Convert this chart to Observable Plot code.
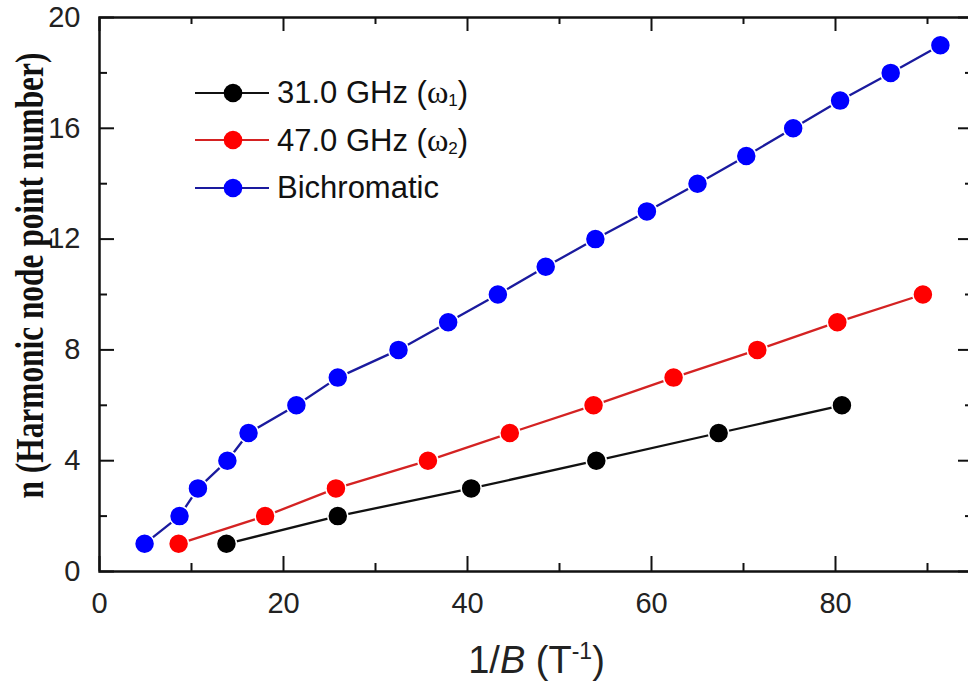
<!DOCTYPE html>
<html>
<head>
<meta charset="utf-8">
<script src="https://cdn.jsdelivr.net/npm/d3@7"></script>
<script src="https://cdn.jsdelivr.net/npm/@observablehq/plot@0.6"></script>
<style>
  html, body { margin: 0; padding: 0; background: #fff; overflow: hidden; }
  #wrap { position: relative; width: 968px; height: 683px; overflow: hidden; }
  #wrap > svg { max-width: none !important; }
  #legend { position: absolute; left: 195px; top: 69px; font-family: "Liberation Sans", Arial, sans-serif; font-size: 31px; color: #111; }
  .row { display: flex; align-items: center; height: 47.5px; white-space: nowrap; }
  .row svg { margin-right: 8px; }
  .om { font-family: "Liberation Serif", "Times New Roman", serif; font-size: 1.05em; }
  .row sub { font-size: 0.55em; vertical-align: -0.15em; }
</style>
</head>
<body>
<div id="wrap"></div>
<script>
// Harmonic node points: n versus 1/B for each excitation
const n31 = [1, 2, 3, 4, 5, 6];
const x31 = [13.8, 25.9, 40.4, 54.0, 67.3, 80.7];

const n47 = [1, 2, 3, 4, 5, 6, 7, 8, 9, 10];
const x47 = [8.6, 18.0, 25.7, 35.7, 44.6, 53.7, 62.4, 71.5, 80.2, 89.5];

const nBi = [1, 2, 3, 4, 5, 6, 7, 8, 9, 10, 11, 12, 13, 14, 15, 16, 17, 18, 19];
const xBi = [4.9, 8.7, 10.7, 13.9, 16.2, 21.4, 25.9, 32.5, 37.9, 43.3, 48.5, 53.9, 59.5, 65.0, 70.3, 75.4, 80.5, 86.0, 91.4];

const seriesNames = ["31.0 GHz (ω1)", "47.0 GHz (ω2)", "Bichromatic"];
const lineColors = ["#111111", "#d42222", "#1a1a9e"];
const dotColors = ["#000000", "#ff0000", "#0000ff"];

const xMajor = [0, 20, 40, 60, 80];
const xMinor = [10, 30, 50, 70, 90];
const yMajor = [0, 4, 8, 12, 16, 20];
const yMinor = [2, 6, 10, 14, 18];

const xTitle = "1/B (T⁻¹)";
const yTitle = "n (Harmonic node point number)";

const rows = (xs, ns, s) => xs.map((x, i) => ({x, n: ns[i], s}));
const data = [
  ...rows(x31, n31, seriesNames[0]),
  ...rows(x47, n47, seriesNames[1]),
  ...rows(xBi, nBi, seriesNames[2])
];

const W = 975, H = 683;
const mL = 99, mR = 2, mT = 17, mB = 112;
const plotW = W - mL - mR, plotH = H - mT - mB;
const sans = "'Liberation Sans', Arial, sans-serif";
const yTitleLength = 446; // condensed run length of the vertical title

const chart = Plot.plot({
  width: W,
  height: H,
  marginLeft: mL,
  marginRight: mR,
  marginTop: mT,
  marginBottom: mB,
  style: {background: "#fff", overflow: "visible", maxWidth: "none"},
  x: {domain: [0, 95], axis: null},
  y: {domain: [0, 20], axis: null},
  color: {domain: seriesNames, range: lineColors},
  marks: [
    // inward ticks on all four sides
    Plot.tickX(xMajor, {x: d => d, insetTop: plotH - 15, stroke: "#111", strokeWidth: 2}),
    Plot.tickX(xMinor, {x: d => d, insetTop: plotH - 8, stroke: "#111", strokeWidth: 2}),
    Plot.tickX(xMajor, {x: d => d, insetBottom: plotH - 14, stroke: "#111", strokeWidth: 2}),
    Plot.tickX(xMinor, {x: d => d, insetBottom: plotH - 7, stroke: "#111", strokeWidth: 2}),
    Plot.tickY(yMajor, {y: d => d, insetRight: plotW - 15, stroke: "#111", strokeWidth: 2}),
    Plot.tickY(yMinor, {y: d => d, insetRight: plotW - 8, stroke: "#111", strokeWidth: 2}),
    Plot.tickY(yMajor, {y: d => d, insetLeft: plotW - 15, stroke: "#111", strokeWidth: 2}),
    Plot.tickY(yMinor, {y: d => d, insetLeft: plotW - 8, stroke: "#111", strokeWidth: 2}),
    Plot.frame({stroke: "#111", strokeWidth: 2.5}),
    // tick labels
    Plot.text(xMajor, {x: d => d, frameAnchor: "bottom", lineAnchor: "middle", dy: 32, text: d => String(d), fontSize: 29, fontFamily: sans, fill: "#222"}),
    Plot.text(yMajor, {y: d => d, frameAnchor: "left", lineAnchor: "middle", dx: -19, textAnchor: "end", text: d => String(d), fontSize: 29, fontFamily: sans, fill: "#222"}),
    // series
    Plot.line(data, {x: "x", y: "n", z: "s", stroke: "s", strokeWidth: 2.3}),
    Plot.dot(data, {x: "x", y: "n", r: 10, fill: d => dotColors[seriesNames.indexOf(d.s)], stroke: "#fff", strokeWidth: 1.5}),
    // axis titles
    Plot.text([xTitle], {frameAnchor: "bottom", lineAnchor: "bottom", dy: 101, text: d => d, fontSize: 38, fontFamily: sans, fill: "#222"}),
    Plot.text([yTitle], {frameAnchor: "left", dx: -57, dy: -19, rotate: -90, textAnchor: "middle", lineAnchor: "bottom", text: d => d, fontSize: 40, fontWeight: "bold", fontFamily: "'Liberation Serif', 'Times New Roman', serif", fill: "#111"})
  ]
});

const wrap = document.getElementById("wrap");
wrap.appendChild(chart);

// rich text for the axis titles
chart.querySelectorAll("text").forEach(t => {
  if (t.textContent === xTitle) {
    t.textContent = "";
    const ns = "http://www.w3.org/2000/svg";
    const add = (txt, attrs) => {
      const s = document.createElementNS(ns, "tspan");
      s.textContent = txt;
      for (const k in attrs) s.setAttribute(k, attrs[k]);
      t.appendChild(s);
    };
    add("1/");
    add("B", {"font-style": "italic"});
    add(" (T");
    add("-1", {"font-size": "23", dy: "-14"});
    add(")", {dy: "14"});
  } else if (t.textContent === yTitle) {
    // tall, condensed vertical title
    const natural = t.getComputedTextLength();
    const k = natural > 0 ? yTitleLength / natural : 0.78;
    const tr = t.getAttribute("transform") || "";
    t.setAttribute("transform", `${tr} scale(${k},1)`);
  }
});

// legend
const legend = document.createElement("div");
legend.id = "legend";
const labelsHtml = [
  '31.0 GHz (<span class="om">ω</span><sub>1</sub>)',
  '47.0 GHz (<span class="om">ω</span><sub>2</sub>)',
  'Bichromatic'
];
seriesNames.forEach((name, i) => {
  const row = document.createElement("div");
  row.className = "row";
  row.innerHTML = `<svg width="74" height="24"><line x1="0" x2="74" y1="12" y2="12" stroke="${lineColors[i]}" stroke-width="2"/><circle cx="38" cy="12" r="9.3" fill="${dotColors[i]}"/></svg><span>${labelsHtml[i]}</span>`;
  legend.appendChild(row);
});
wrap.appendChild(legend);
</script>
</body>
</html>
